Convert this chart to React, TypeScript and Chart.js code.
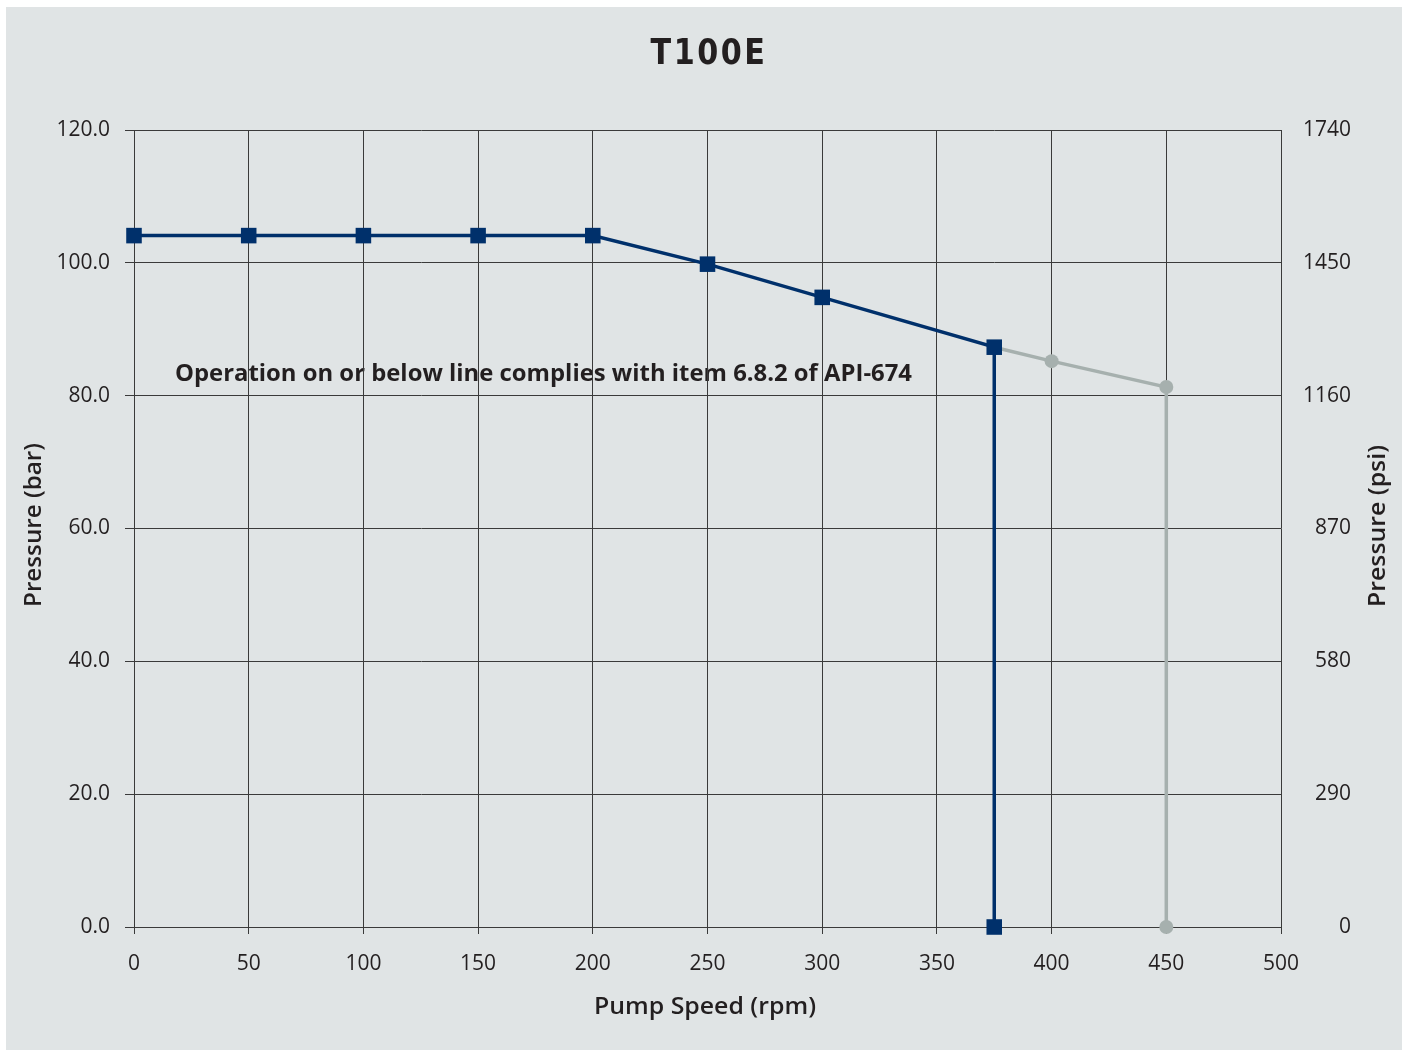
import React, { useEffect, useRef } from "react";
import { Chart, registerables } from "chart.js";

Chart.register(...registerables);

const chartTitle = "T100E";
const xAxisTitle = "Pump Speed (rpm)";
const yLeftTitle = "Pressure (bar)";
const yRightTitle = "Pressure (psi)";
const noteText = "Operation on or below line complies with item 6.8.2 of API-674";

const ratedSpeed = [0, 50, 100, 150, 200, 250, 300, 375, 375];
const ratedPressure = [104.1, 104.1, 104.1, 104.1, 104.1, 99.8, 94.8, 87.3, 0];

const maxSpeed = [375, 400, 450, 450];
const maxPressure = [87.3, 85.2, 81.3, 0];

const xMin = 0;
const xMax = 500;
const xStep = 50;
const barMin = 0;
const barMax = 120;
const barStep = 20;
const psiMin = 0;
const psiMax = 1740;
const psiStep = 290;

const navy = "#00306b";
const grey = "#a6b0ae";
const panel = "#e0e4e5";
const ink = "#231f20";
const gridColor = "#3a3a3a";

function fitText(
  ctx: CanvasRenderingContext2D,
  text: string,
  x: number,
  y: number,
  width: number,
  font: string,
  rotate = 0
) {
  ctx.save();
  ctx.font = font;
  ctx.fillStyle = ink;
  ctx.textAlign = "center";
  ctx.textBaseline = "middle";
  const w = ctx.measureText(text).width;
  ctx.translate(x, y);
  if (rotate) ctx.rotate(rotate);
  ctx.scale(width / w, 1);
  ctx.fillText(text, 0, 0);
  ctx.restore();
}

const decorPlugin = {
  id: "decor",
  beforeDraw(chart: any) {
    const ctx = chart.ctx as CanvasRenderingContext2D;
    ctx.save();
    ctx.fillStyle = "#ffffff";
    ctx.fillRect(0, 0, chart.width, chart.height);
    ctx.fillStyle = panel;
    ctx.fillRect(6, 7, 1396, 1043);
    ctx.restore();
    // annotation note (under grid lines)
    ctx.save();
    ctx.font = "bold 23px 'Open Sans'";
    const w = ctx.measureText(noteText).width;
    ctx.fillStyle = ink;
    ctx.textAlign = "left";
    ctx.textBaseline = "alphabetic";
    ctx.translate(175, 381);
    ctx.scale(737 / w, 1);
    ctx.fillText(noteText, 0, 0);
    ctx.restore();
  },
  afterDraw(chart: any) {
    const ctx = chart.ctx as CanvasRenderingContext2D;
    ctx.save();
    (ctx as any).letterSpacing = "3px";
    fitText(ctx, chartTitle, 709, 55, 117, "900 36px 'DejaVu Sans'");
    ctx.restore();
    fitText(ctx, xAxisTitle, 705, 1007, 222, "600 24px 'Open Sans'");
    fitText(ctx, yLeftTitle, 34, 525, 164, "600 24px 'Open Sans'", -Math.PI / 2);
    fitText(ctx, yRightTitle, 1378, 526, 162, "600 24px 'Open Sans'", -Math.PI / 2);
  },
};

export default function App() {
  const ref = useRef<HTMLCanvasElement | null>(null);

  useEffect(() => {
    document.body.style.margin = "0";
    if (!ref.current) return;
    const chart = new Chart(ref.current, {
      type: "line",
      data: {
        datasets: [
          {
            label: "rated",
            data: ratedSpeed.map((x, i) => ({ x, y: ratedPressure[i] })),
            borderColor: navy,
            backgroundColor: navy,
            borderWidth: 3.5,
            pointStyle: "rect",
            pointRadius: 11,
            pointBorderWidth: 0,
            tension: 0,
            clip: false,
            yAxisID: "y",
          },
          {
            label: "max",
            data: maxSpeed.map((x, i) => ({ x, y: maxPressure[i] })),
            borderColor: grey,
            backgroundColor: grey,
            borderWidth: 3.5,
            pointStyle: "circle",
            pointRadius: [0, 7, 7, 7],
            pointBorderWidth: 0,
            tension: 0,
            clip: false,
            yAxisID: "y",
          },
        ],
      },
      options: {
        animation: false,
        responsive: true,
        maintainAspectRatio: false,
        layout: { padding: { top: 130, left: 0, right: 55, bottom: 0 } },
        plugins: {
          legend: { display: false },
          title: { display: false },
          tooltip: { enabled: false },
        },
        scales: {
          x: {
            type: "linear",
            min: xMin,
            max: xMax,
            ticks: {
              stepSize: xStep,
              padding: 17,
              color: ink,
              font: { family: "'Open Sans'", size: 21 },
              maxRotation: 0,
            },
            grid: { color: gridColor, lineWidth: 1, tickLength: 7 },
            border: { color: gridColor },
            afterFit(scale: any) {
              scale.height = 123;
            },
          },
          y: {
            type: "linear",
            position: "left",
            min: barMin,
            max: barMax,
            ticks: {
              stepSize: barStep,
              padding: 15,
              color: ink,
              font: { family: "'Open Sans'", size: 21 },
              callback: (v: any) => Number(v).toFixed(1),
            },
            grid: { color: gridColor, lineWidth: 1, tickLength: 9 },
            border: { color: gridColor },
            afterFit(scale: any) {
              scale.width = 134;
            },
          },
          y2: {
            type: "linear",
            position: "right",
            min: psiMin,
            max: psiMax,
            ticks: {
              stepSize: psiStep,
              padding: 24,
              color: ink,
              crossAlign: "far",
              font: { family: "'Open Sans'", size: 21 },
              callback: (v: any) => String(v),
            },
            grid: { drawOnChartArea: false, drawTicks: false },
            border: { display: false },
            afterFit(scale: any) {
              scale.width = 70;
            },
          },
        },
      },
      plugins: [decorPlugin],
    } as any);
    return () => chart.destroy();
  }, []);

  return (
    <div style={{ width: 1406, height: 1050, position: "relative" }}>
      <canvas ref={ref} />
    </div>
  );
}
